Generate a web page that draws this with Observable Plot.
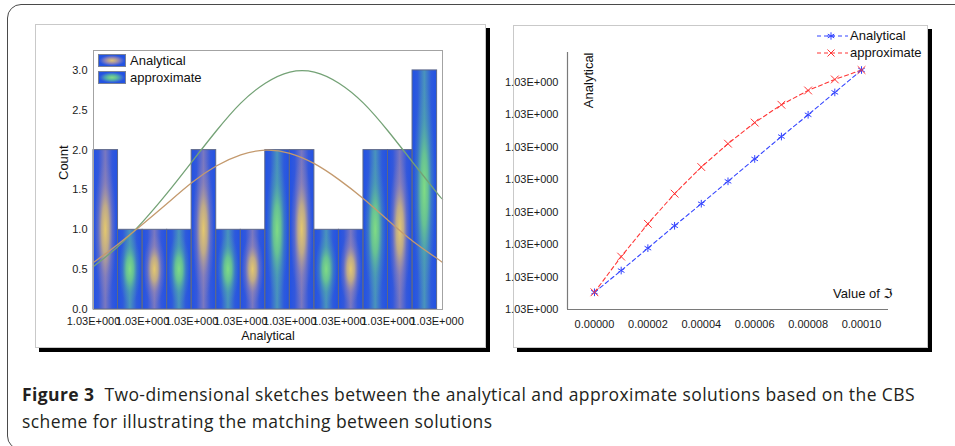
<!DOCTYPE html>
<html>
<head>
<meta charset="utf-8">
<script src="https://cdn.jsdelivr.net/npm/d3@7"></script>
<script src="https://cdn.jsdelivr.net/npm/@observablehq/plot@0.6"></script>
<style>
  html, body { margin: 0; padding: 0; }
  body { width: 955px; height: 446px; overflow: hidden; background: #fff; position: relative;
         font-family: "Liberation Sans", Arial, sans-serif; color: #222; }
  #frame { position: absolute; left: 7px; top: 4px; width: 975px; height: 446px;
           border: 1.5px solid #4a4a4a; border-radius: 14px; box-sizing: border-box; }
  .panel { position: absolute; background: #fff; border: 1px solid #c9c9c9;
           box-shadow: 4px 4px 0 #000; box-sizing: border-box; }
  .plotbox { position: absolute; }
  .plotbox svg { max-width: none; }
  .lg { position: absolute; font-size: 13px; line-height: 16px; color: #111; white-space: nowrap; }
  .sw { position: absolute; width: 28px; height: 13px; box-sizing: border-box; border: 1px solid #7a8296; }
  #swA { background: radial-gradient(closest-side, #dcc27a 0%, #b7a493 30%, #8a82b8 55%, #3f60d8 85%, #2253e2 100%); }
  #swB { background: radial-gradient(closest-side, #7ed88a 0%, #66c296 30%, #4a9fb4 55%, #3462d8 85%, #2253e2 100%); }
  #caption { position: absolute; left: 22px; top: 381px; font-family: "Open Sans", "Noto Sans", sans-serif;
             font-size: 17.5px; line-height: 27px; color: #231f20; white-space: nowrap; }
  #caption b { font-weight: 700; }
</style>
</head>
<body>
<svg width="0" height="0" style="position:absolute">
  <defs>
    <linearGradient id="baseA" x1="0" y1="0" x2="1" y2="0">
      <stop offset="0" stop-color="#2152e4"/>
      <stop offset="0.22" stop-color="#3358dc"/>
      <stop offset="0.5" stop-color="#7a78c0"/>
      <stop offset="0.78" stop-color="#3358dc"/>
      <stop offset="1" stop-color="#2152e4"/>
    </linearGradient>
    <linearGradient id="baseB" x1="0" y1="0" x2="1" y2="0">
      <stop offset="0" stop-color="#2152e4"/>
      <stop offset="0.22" stop-color="#2e5adc"/>
      <stop offset="0.5" stop-color="#4a94bc"/>
      <stop offset="0.78" stop-color="#2e5adc"/>
      <stop offset="1" stop-color="#2152e4"/>
    </linearGradient>
    <radialGradient id="glowA" cx="0.5" cy="0.5" r="0.5">
      <stop offset="0" stop-color="#e4c86e" stop-opacity="1"/>
      <stop offset="0.3" stop-color="#cdb47e" stop-opacity="0.85"/>
      <stop offset="0.6" stop-color="#a08cae" stop-opacity="0.35"/>
      <stop offset="0.9" stop-color="#8a80b8" stop-opacity="0"/>
    </radialGradient>
    <radialGradient id="glowB" cx="0.5" cy="0.5" r="0.5">
      <stop offset="0" stop-color="#80dc84" stop-opacity="1"/>
      <stop offset="0.3" stop-color="#6ccb8c" stop-opacity="0.85"/>
      <stop offset="0.6" stop-color="#4fa8a8" stop-opacity="0.35"/>
      <stop offset="0.9" stop-color="#4a94bc" stop-opacity="0"/>
    </radialGradient>
  </defs>
</svg>

<div id="frame"></div>
<div class="panel" style="left:35px;top:24px;width:451px;height:324px"></div>
<div class="panel" style="left:513px;top:25px;width:415px;height:323px"></div>
<div id="left" class="plotbox" style="left:35px;top:24px"></div>
<div id="right" class="plotbox" style="left:500px;top:25px"></div>

<!-- left legend -->
<div id="swA" class="sw" style="left:98px;top:54px"></div>
<div id="swB" class="sw" style="left:98px;top:71px"></div>
<div class="lg" style="left:130px;top:53px">Analytical</div>
<div class="lg" style="left:130px;top:70px">approximate</div>

<!-- right legend -->
<svg style="position:absolute;left:816px;top:28px" width="34" height="34">
  <g stroke="#3344ff" stroke-width="1" fill="none">
    <line x1="1" x2="32" y1="8" y2="8" stroke-dasharray="4,3"/>
    <path d="M15,4.3V11.7M11.8,6.1L18.2,9.9M11.8,9.9L18.2,6.1M11.3,8H18.7"/>
  </g>
  <g stroke="#ff3535" stroke-width="1" fill="none">
    <line x1="1" x2="32" y1="25" y2="25" stroke-dasharray="4,3"/>
    <path d="M11.5,21.5L18.5,28.5M11.5,28.5L18.5,21.5"/>
  </g>
</svg>
<div class="lg" style="left:850px;top:28px">Analytical</div>
<div class="lg" style="left:850px;top:45px">approximate</div>

<div id="caption"><span id="cap1"><b>Figure 3</b>&nbsp; Two-dimensional sketches between the analytical and approximate solutions based on the CBS</span><br><span id="cap2">scheme for illustrating the matching between solutions</span></div>

<script>
// ---------- Left panel: histogram data ----------
const analyticalBins   = [0, 2, 4, 6, 8, 10, 12];
const analyticalCounts = [2, 1, 2, 1, 2, 1, 2];
const approxBins       = [1, 3, 5, 7, 9, 11, 13];
const approxCounts     = [1, 1, 1, 2, 1, 2, 3];
// fitted curves (x in bin units)
const curveX        = [0, 1, 2, 3, 4, 5, 6, 7, 8, 9, 10, 11, 12, 13, 14, 14.22];
const analyticalFit = [0.59, 0.82, 1.07, 1.33, 1.59, 1.80, 1.94, 2.00, 1.96, 1.83, 1.63, 1.39, 1.12, 0.86, 0.64, 0.59];
const approxFit     = [0.54, 0.79, 1.10, 1.46, 1.85, 2.24, 2.59, 2.84, 2.98, 2.98, 2.84, 2.59, 2.24, 1.85, 1.46, 1.38];
const histTicks      = [0, 2, 4, 6, 8, 10, 12, 14];
const histTickLabels = ["1.03E+000", "1.03E+000", "1.03E+000", "1.03E+000", "1.03E+000", "1.03E+000", "1.03E+000", "1.03E+000"];
const countTicks     = [0, 0.5, 1, 1.5, 2, 2.5, 3];
const histXDomain    = [0, 14.22];
const countDomain    = [0, 3.25];

// ---------- Right panel: line data ----------
const thetaValues    = [0, 0.00001, 0.00002, 0.00003, 0.00004, 0.00005, 0.00006, 0.00007, 0.00008, 0.00009, 0.0001];
const analyticalLine = [0.53, 1.20, 1.89, 2.58, 3.26, 3.95, 4.64, 5.33, 6.00, 6.69, 7.38];
const approxLine     = [0.53, 1.63, 2.64, 3.57, 4.39, 5.11, 5.76, 6.31, 6.75, 7.09, 7.38];
const thetaTicks     = [0, 0.00002, 0.00004, 0.00006, 0.00008, 0.0001];
const valueTicks     = [0, 1, 2, 3, 4, 5, 6, 7];
const valueTickLabels = ["1.03E+000", "1.03E+000", "1.03E+000", "1.03E+000", "1.03E+000", "1.03E+000", "1.03E+000", "1.03E+000"];
const thetaDomain    = [-0.0000101, 0.0001101];
const valueDomain    = [0, 7.92];

const font = "'Liberation Sans', Arial, sans-serif";

const barsA = analyticalBins.map((b, i) => ({x1: b, x2: b + 1, y: analyticalCounts[i]}));
const barsB = approxBins.map((b, i) => ({x1: b, x2: b + 1, y: approxCounts[i]}));
const fitA = curveX.map((x, i) => ({x, y: analyticalFit[i]}));
const fitB = curveX.map((x, i) => ({x, y: approxFit[i]}));

const left = Plot.plot({
  width: 451, height: 324,
  marginLeft: 58, marginRight: 44, marginTop: 26, marginBottom: 39,
  style: {fontFamily: font, fontSize: "11px", background: "transparent", color: "#1a1a1a", overflow: "visible"},
  x: {domain: histXDomain},
  y: {domain: countDomain},
  marks: [
    Plot.rectY(barsA, {x1: "x1", x2: "x2", y: "y", fill: "url(#baseA)"}),
    Plot.rectY(barsA, {x1: "x1", x2: "x2", y: "y", fill: "url(#glowA)"}),
    Plot.rectY(barsB, {x1: "x1", x2: "x2", y: "y", fill: "url(#baseB)"}),
    Plot.rectY(barsB, {x1: "x1", x2: "x2", y: "y", fill: "url(#glowB)"}),
    Plot.rectY(barsA, {x1: "x1", x2: "x2", y: "y", fill: "none", stroke: "#5d6788", strokeWidth: 1}),
    Plot.rectY(barsB, {x1: "x1", x2: "x2", y: "y", fill: "none", stroke: "#5d6788", strokeWidth: 1}),
    Plot.line(fitB, {x: "x", y: "y", curve: "natural", stroke: "#74a276", strokeWidth: 1.3}),
    Plot.line(fitA, {x: "x", y: "y", curve: "natural", stroke: "#c49a6e", strokeWidth: 1.3}),
    Plot.frame({stroke: "#a3a3a3"}),
    Plot.axisY(countTicks, {tickSize: 0, tickPadding: 6, tickFormat: d3.format(".1f"), fontSize: 11, label: null}),
    Plot.axisX(histTicks, {tickSize: 0, tickPadding: 8, tickFormat: d => histTickLabels[histTicks.indexOf(d)], fontSize: 11, label: null}),
    Plot.text(["Count"], {text: d => d, frameAnchor: "left", rotate: -90, dx: -30, fontSize: 13, fill: "#111"}),
    Plot.text(["Analytical"], {text: d => d, frameAnchor: "bottom", dy: 30, fontSize: 12.5, fill: "#111"})
  ]
});
document.getElementById("left").appendChild(left);

const lineA = thetaValues.map((x, i) => ({x, y: analyticalLine[i]}));
const lineB = thetaValues.map((x, i) => ({x, y: approxLine[i]}));

const right = Plot.plot({
  width: 428, height: 323,
  marginLeft: 67, marginRight: 40, marginTop: 27, marginBottom: 39,
  style: {fontFamily: font, fontSize: "11px", background: "transparent", color: "#1a1a1a", overflow: "visible"},
  x: {domain: thetaDomain},
  y: {domain: valueDomain},
  marks: [
    Plot.ruleX([thetaDomain[0]], {stroke: "#7a7a7a", strokeWidth: 1.2}),
    Plot.ruleY([valueDomain[0]], {stroke: "#7a7a7a", strokeWidth: 1.2}),
    Plot.line(lineB, {x: "x", y: "y", stroke: "#ff3535", strokeWidth: 1.1, strokeDasharray: "4,3"}),
    Plot.line(lineA, {x: "x", y: "y", stroke: "#3344ff", strokeWidth: 1.1, strokeDasharray: "4,3"}),
    Plot.dot(lineA, {x: "x", y: "y", symbol: "asterisk", r: 3.6, stroke: "#3344ff", strokeWidth: 1}),
    Plot.dot(lineB, {x: "x", y: "y", symbol: "times", r: 3.6, stroke: "#ff3535", strokeWidth: 1}),
    Plot.axisY(valueTicks, {tickSize: 0, tickPadding: 9, tickFormat: d => valueTickLabels[valueTicks.indexOf(d)], fontSize: 11, label: null}),
    Plot.axisX(thetaTicks, {tickSize: 0, tickPadding: 11, tickFormat: d3.format(".5f"), fontSize: 11, label: null}),
    Plot.text(["Analytical"], {text: d => d, frameAnchor: "top-left", rotate: -90, textAnchor: "end", dx: 16, fontSize: 13, fill: "#111"}),
    Plot.text(["Value of ℑ"], {text: d => d, frameAnchor: "bottom-right", textAnchor: "end", dx: 4, dy: -12, fontSize: 13, fill: "#111",
      fontFamily: "'Liberation Sans', 'DejaVu Sans', sans-serif"})
  ]
});
document.getElementById("right").appendChild(right);

// fit caption line 1 to the reference width
const cap1 = document.getElementById("cap1");
const w = cap1.getBoundingClientRect().width;
const n = cap1.textContent.length;
const ls = (893 - w) / n;
document.getElementById("caption").style.letterSpacing = ls + "px";
</script>
</body>
</html>
